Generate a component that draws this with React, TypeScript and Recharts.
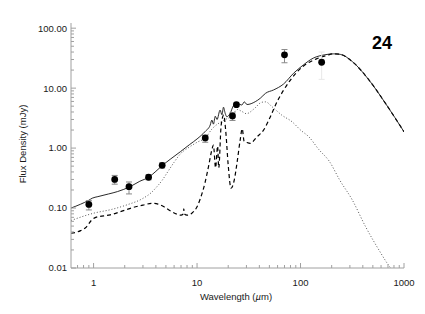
import { ComposedChart, Line, Scatter, ErrorBar, XAxis, YAxis } from 'recharts'

const AXIS = '#a0a0a0'
const INK = '#1a1a1a'
const FONT = "'Liberation Sans', Arial, Helvetica, sans-serif"

const X_DOMAIN = [0.605, 1000]
const Y_DOMAIN = [0.01, 122]

// model curves, [wavelength (um), flux density (mJy)]
const totalModel: [number, number][] = [
  [0.605, 0.1], [0.75, 0.116], [0.9, 0.135], [0.97, 0.146], [1.1, 0.155], [1.4, 0.172],
  [1.7, 0.188], [2.26, 0.228], [2.8, 0.28], [3.4, 0.325], [4.0, 0.41], [4.6, 0.51],
  [5.5, 0.65], [6.9, 0.87], [8.5, 1.15], [10, 1.42], [12, 1.9], [13.4, 2.42],
  [13.9, 2.94], [14.4, 2.51], [15.0, 3.4], [15.6, 3.0], [16.7, 4.3], [17.4, 3.6],
  [18.0, 4.8], [18.7, 3.8], [19.4, 3.33], [20.9, 3.8], [22.5, 5.1], [24.3, 5.5],
  [27.1, 5.23], [28.6, 5.9], [30.4, 5.33], [36.5, 5.94], [40.8, 6.77], [45.9, 8.2],
  [54.9, 9.33], [68.5, 11.7], [85.6, 17.7], [106.6, 24.4], [133, 31.7], [172, 36],
  [208, 37.3], [242, 36.6], [316, 27.8], [458, 13.7], [662, 5.58], [1000, 1.87],
]

const dashedModel: [number, number][] = [
  [0.605, 0.038], [0.75, 0.042], [0.85, 0.048], [0.95, 0.062], [1.05, 0.07], [1.45, 0.077],
  [2.0, 0.092], [2.44, 0.103], [3.0, 0.112], [3.67, 0.12], [4.2, 0.116], [4.74, 0.106],
  [5.5, 0.09], [6.38, 0.079], [7.0, 0.076], [7.35, 0.08], [7.45, 0.097], [7.55, 0.08],
  [8.0, 0.076], [8.9, 0.082], [10, 0.105], [10.7, 0.14], [12, 0.275], [12.9, 0.49],
  [13.9, 0.93], [14.4, 1.12], [15.1, 0.47], [15.8, 1.08], [16.2, 0.47], [17.1, 2.41],
  [18.1, 3.54], [18.9, 1.99], [20, 0.52], [21.3, 0.214], [22.9, 0.294], [24.3, 0.557],
  [26.1, 1.36], [27.3, 2.1], [28.5, 1.3], [30, 1.25], [32.7, 1.2], [37.9, 1.54],
  [43.9, 1.99], [51, 3.31], [59.2, 5.89], [68.5, 9.2], [79.5, 13.5], [95.7, 19.8],
  [115, 25.6], [144, 31], [180, 35.2], [208, 37.3], [242, 36.6], [316, 27.8],
  [458, 13.7], [662, 5.58], [1000, 1.87],
]

const dottedModel: [number, number][] = [
  [0.605, 0.062], [1.0, 0.082], [1.5, 0.095], [2.1, 0.113], [3.0, 0.145], [3.6, 0.18],
  [4.1, 0.228], [4.6, 0.29], [5.1, 0.38], [6.0, 0.58], [6.9, 0.8], [8.5, 1.05],
  [10, 1.25], [12, 1.48], [14, 2.1], [18, 2.9], [21.7, 3.44], [24.5, 4.4], [27, 4.1],
  [30, 3.75], [35.5, 4.5], [42, 5.8], [46, 5.9], [53, 4.9], [66, 3.54], [83, 2.74],
  [100, 2.0], [120, 1.55], [150, 0.95], [190, 0.6], [240, 0.29], [316, 0.137],
  [425, 0.049], [572, 0.02], [688, 0.012], [741, 0.01], [800, 0.008],
]

// photometry
const photWave = [0.9, 1.6, 2.2, 3.4, 4.6, 12, 22, 24, 70, 160]
const photFlux = [0.115, 0.3, 0.227, 0.326, 0.516, 1.48, 3.44, 5.3, 36, 27]
const photErrLow = [0.022, 0.05, 0.055, 0.03, 0.05, 0.23, 0.55, 0.3, 9.5, 13]
const photErrHigh = [0.018, 0.05, 0.045, 0.03, 0.05, 0.15, 0.45, 0.3, 8, 13]
const photFaint = [false, false, false, false, false, false, false, false, false, true]

const xMajor = [1, 10, 100, 1000]
const xMinor = [0.7, 0.8, 0.9, 2, 3, 4, 5, 6, 7, 8, 9, 20, 30, 40, 50, 60, 70, 80, 90,
  200, 300, 400, 500, 600, 700, 800, 900]
const yMajor = [0.01, 0.1, 1, 10, 100]
const yMinor = [0.02, 0.03, 0.04, 0.05, 0.06, 0.07, 0.08, 0.09, 0.2, 0.3, 0.4, 0.5, 0.6,
  0.7, 0.8, 0.9, 2, 3, 4, 5, 6, 7, 8, 9, 20, 30, 40, 50, 60, 70, 80, 90]

const xTicks = [...xMajor, ...xMinor]
const yTicks = [...yMajor, ...yMinor]

const toPoints = (rows: [number, number][]) => rows.map(([x, y]) => ({ x, y }))

const photometry = photWave.map((x, i) => ({
  x,
  y: photFlux[i],
  err: [photErrLow[i], photErrHigh[i]],
}))
const photMain = photometry.filter((_, i) => !photFaint[i])
const photLight = photometry.filter((_, i) => photFaint[i])

const labelStyle = { fontSize: 9.5, fontFamily: FONT, fill: INK }

function BottomTick({ x, y, payload }: any) {
  const major = xMajor.includes(payload.value)
  return (
    <g>
      <line x1={x} x2={x} y1={y} y2={y - (major ? 5 : 3)} stroke={AXIS} />
      {major && (
        <text x={x} y={y + 18} textAnchor="middle" {...labelStyle}>
          {payload.value}
        </text>
      )}
    </g>
  )
}

function TopTick({ x, y, payload }: any) {
  const major = xMajor.includes(payload.value)
  return <line x1={x} x2={x} y1={y} y2={y + (major ? 5 : 3)} stroke={AXIS} />
}

function LeftTick({ x, y, payload }: any) {
  const major = yMajor.includes(payload.value)
  return (
    <g>
      <line x1={x} x2={x + (major ? 5 : 3)} y1={y} y2={y} stroke={AXIS} />
      {major && (
        <text x={x - 4} y={y + 3.4} textAnchor="end" {...labelStyle}>
          {payload.value.toFixed(2)}
        </text>
      )}
    </g>
  )
}

function RightTick({ x, y, payload }: any) {
  const major = yMajor.includes(payload.value)
  return <line x1={x} x2={x - (major ? 5 : 3)} y1={y} y2={y} stroke={AXIS} />
}

const dotShape = (p: any) => <circle cx={p.cx} cy={p.cy} r={3.4} fill="#000" />

export default function App() {
  return (
    <div style={{ position: 'absolute', left: 0, top: 0, width: 425, height: 314, background: '#fff' }}>
      <ComposedChart width={425} height={314} margin={{ top: 23, right: 21, bottom: 0, left: 0 }}>
        <XAxis
          dataKey="x" type="number" scale="log" domain={X_DOMAIN} allowDataOverflow
          ticks={xTicks} interval={0} tick={BottomTick} tickLine={false} tickSize={0} tickMargin={0}
          axisLine={{ stroke: AXIS }} height={46}
        />
        <XAxis
          xAxisId="top" orientation="top" dataKey="x" type="number" scale="log" domain={X_DOMAIN}
          allowDataOverflow ticks={xTicks} interval={0} tick={TopTick} tickLine={false} tickSize={0}
          tickMargin={0} axisLine={{ stroke: AXIS }} height={0}
        />
        <YAxis
          dataKey="y" type="number" scale="log" domain={Y_DOMAIN} allowDataOverflow
          ticks={yTicks} interval={0} tick={LeftTick} tickLine={false} tickSize={0} tickMargin={0}
          axisLine={{ stroke: AXIS }} width={71}
        />
        <YAxis
          yAxisId="right" orientation="right" dataKey="y" type="number" scale="log" domain={Y_DOMAIN}
          allowDataOverflow ticks={yTicks} interval={0} tick={RightTick} tickLine={false} tickSize={0}
          tickMargin={0} axisLine={{ stroke: AXIS }} width={0}
        />

        <Line data={toPoints(dottedModel)} dataKey="y" type="monotone" stroke="#555" strokeWidth={1}
          strokeDasharray="1 2" dot={false} activeDot={false} isAnimationActive={false} />
        <Line data={toPoints(dashedModel)} dataKey="y" type="monotone" stroke="#000" strokeWidth={1.2}
          strokeDasharray="4 3" dot={false} activeDot={false} isAnimationActive={false} />
        <Line data={toPoints(totalModel)} dataKey="y" type="monotone" stroke="#111" strokeWidth={0.9}
          dot={false} activeDot={false} isAnimationActive={false} />

        <Scatter data={photMain} dataKey="y" shape={dotShape} isAnimationActive={false}>
          <ErrorBar dataKey="err" direction="y" width={3} stroke="#888" strokeWidth={1} />
        </Scatter>
        <Scatter data={photLight} dataKey="y" shape={dotShape} isAnimationActive={false}>
          <ErrorBar dataKey="err" direction="y" width={3} stroke="#e8e8e8" strokeWidth={1} />
        </Scatter>

        <text x={392} y={49} textAnchor="end" fontSize={18} fontWeight="bold" fontFamily={FONT} fill="#000">
          24
        </text>
        <text transform="translate(26,144) rotate(-90)" textAnchor="middle" {...labelStyle}>
          Flux Density (mJy)
        </text>
        <text x={236} y={299.5} textAnchor="middle" {...labelStyle}>
          Wavelength (<tspan fontStyle="italic">µ</tspan>m)
        </text>
      </ComposedChart>
    </div>
  )
}
